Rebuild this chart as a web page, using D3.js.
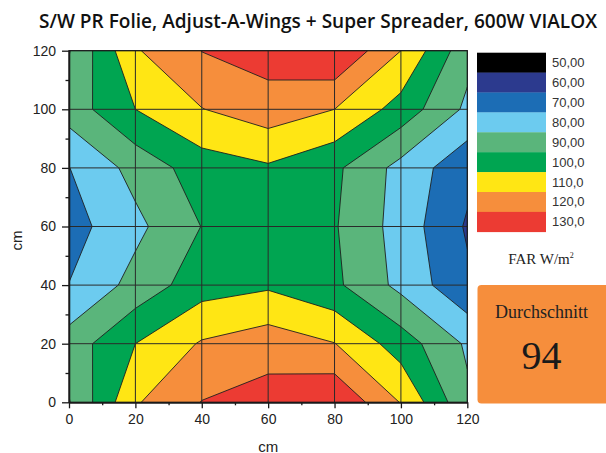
<!DOCTYPE html>
<html>
<head>
<meta charset="utf-8">
<script src="https://cdn.jsdelivr.net/npm/d3@7"></script>
<style>
  body { margin: 0; background: #ffffff; }
  svg { display: block; }
</style>
</head>
<body>
<svg id="chart" width="606" height="453"></svg>
<script>
// Measuring grid (cm)
const xPositions = [0, 20, 40, 60, 80, 100, 120];
const yPositions = [0, 20, 40, 60, 80, 100, 120];

// FAR readings in W/m², one row per y position (y = 0 first), columns follow xPositions
const farY0   = [79.5, 109.0, 120.3, 124.1, 129.2, 109.5, 82.0];
const farY20  = [84.5, 100.0, 111.0, 115.6, 110.3,  95.2, 78.5];
const farY40  = [70.2,  83.4,  95.7,  98.5,  92.0,  77.2, 62.0];
const farY60  = [66.0,  77.5,  90.2,  93.0,  90.8,  75.9, 58.8];
const farY80  = [69.8,  83.4,  95.0,  98.7,  92.0,  76.7, 63.0];
const farY100 = [84.5, 100.0, 109.7, 115.5, 110.0,  96.0, 78.0];
const farY120 = [79.5, 109.0, 120.2, 124.5, 130.0, 110.0, 83.3];

// Colour scale levels (upper bound of each band) with their labels and colours
const levelValues = [50, 60, 70, 80, 90, 100, 110, 120, 130];
const levelLabels = ["50,00", "60,00", "70,00", "80,00", "90,00", "100,0", "110,0", "120,0", "130,0"];
const levelColors = ["#000000", "#2c3a8e", "#1c6db5", "#6ccbef", "#5ab57b", "#00a551", "#ffe614", "#f68e3c", "#ec3b33"];

const axisTicks = [0, 20, 40, 60, 80, 100, 120];
const minorTicks = [10, 30, 50, 70, 90, 110];

const titleText = "S/W PR  Folie, Adjust-A-Wings + Super Spreader, 600W VIALOX";
const axisTitle = "cm";
const unitText = "FAR W/m";
const averageTitle = "Durchschnitt";

const rows = [farY0, farY20, farY40, farY60, farY80, farY100, farY120];
const values = rows.flat();
const nx = xPositions.length, ny = yPositions.length;

const svg = d3.select("#chart");
const plot = { left: 69, right: 467.3, top: 50.7, bottom: 402.3 };

const x = d3.scaleLinear().domain([0, 120]).range([plot.left, plot.right]);
const y = d3.scaleLinear().domain([0, 120]).range([plot.bottom, plot.top]);

// grid-index space of d3.contours (sample i sits at i + 0.5) -> data -> pixels
const gx = d3.scaleLinear().domain([0.5, nx - 0.5]).range([xPositions[0], xPositions[nx - 1]]);
const gy = d3.scaleLinear().domain([0.5, ny - 0.5]).range([yPositions[0], yPositions[ny - 1]]);
const toPixels = d3.geoTransform({
  point(px, py) { this.stream.point(x(gx(px)), y(gy(py))); }
});
const path = d3.geoPath(toPixels);

svg.append("defs").append("clipPath").attr("id", "plot-clip")
  .append("rect")
  .attr("x", plot.left).attr("y", plot.top)
  .attr("width", plot.right - plot.left).attr("height", plot.bottom - plot.top);

// Filled contour bands: region >= level[i] gets the colour of the band above it
const thresholds = levelValues.slice(0, -1);
const contours = d3.contours().size([nx, ny]).thresholds(thresholds)(values);

const field = svg.append("g").attr("clip-path", "url(#plot-clip)");
field.selectAll("path.band")
  .data(contours)
  .join("path")
  .attr("class", "band")
  .attr("d", path)
  .attr("fill", (d, i) => levelColors[i + 1])
  .attr("stroke", "#1f1f1f")
  .attr("stroke-width", 0.9)
  .attr("stroke-linejoin", "round");

// Grid lines at the major ticks
const inner = axisTicks.slice(1, -1);
field.selectAll("line.vgrid").data(inner).join("line")
  .attr("x1", d => x(d)).attr("x2", d => x(d))
  .attr("y1", plot.top).attr("y2", plot.bottom)
  .attr("stroke", "#2a2a2a").attr("stroke-width", 1);
field.selectAll("line.hgrid").data(inner).join("line")
  .attr("y1", d => y(d)).attr("y2", d => y(d))
  .attr("x1", plot.left).attr("x2", plot.right)
  .attr("stroke", "#2a2a2a").attr("stroke-width", 1);

// Frame
svg.append("rect")
  .attr("x", plot.left).attr("y", plot.top)
  .attr("width", plot.right - plot.left).attr("height", plot.bottom - plot.top)
  .attr("fill", "none").attr("stroke", "#1a1a1a").attr("stroke-width", 1.3);

// Axes
const tickFont = "'Liberation Sans', Arial, sans-serif";
function styleAxis(g) {
  g.select(".domain").attr("stroke", "#1a1a1a").attr("stroke-width", 1.3);
  g.selectAll(".tick line").attr("stroke", "#1a1a1a").attr("stroke-width", 1.3);
  g.selectAll(".tick text").attr("fill", "#222").style("font-family", tickFont).style("font-size", "14px");
}
svg.append("g").attr("transform", `translate(0,${plot.bottom})`)
  .call(d3.axisBottom(x).tickValues(axisTicks).tickSize(6).tickPadding(6).tickSizeOuter(0))
  .call(styleAxis);
svg.append("g").attr("transform", `translate(0,${plot.bottom})`)
  .call(d3.axisBottom(x).tickValues(minorTicks).tickSize(3).tickFormat("").tickSizeOuter(0))
  .call(styleAxis);
svg.append("g").attr("transform", `translate(${plot.left},0)`)
  .call(d3.axisLeft(y).tickValues(axisTicks).tickSize(7).tickPadding(6).tickSizeOuter(0))
  .call(styleAxis);
svg.append("g").attr("transform", `translate(${plot.left},0)`)
  .call(d3.axisLeft(y).tickValues(minorTicks).tickSize(3.5).tickFormat("").tickSizeOuter(0))
  .call(styleAxis);

// Axis titles
svg.append("text")
  .attr("x", (plot.left + plot.right) / 2).attr("y", 446)
  .attr("text-anchor", "middle").attr("dominant-baseline", "central")
  .style("font-family", tickFont).style("font-size", "15px").attr("fill", "#222")
  .text(axisTitle);
svg.append("text")
  .attr("transform", `translate(22,${(plot.top + plot.bottom) / 2 + 14}) rotate(-90)`)
  .attr("text-anchor", "middle")
  .style("font-family", tickFont).style("font-size", "15px").attr("fill", "#222")
  .text(axisTitle);

// Title
svg.append("text")
  .attr("x", 39).attr("y", 28)
  .attr("textLength", 558).attr("lengthAdjust", "spacingAndGlyphs")
  .style("font-family", "'Open Sans', 'Noto Sans', sans-serif")
  .style("font-size", "19px").style("font-weight", 600)
  .attr("fill", "#111")
  .text(titleText);

// Colour legend
const legend = { x: 477, y: 52.7, w: 69, h: 19.9 };
const lg = svg.append("g");
lg.selectAll("rect").data(levelColors).join("rect")
  .attr("x", legend.x).attr("y", (d, i) => legend.y + i * legend.h)
  .attr("width", legend.w).attr("height", legend.h + 0.3)
  .attr("fill", d => d);
lg.selectAll("text").data(levelLabels).join("text")
  .attr("x", 552).attr("y", (d, i) => legend.y + (i + 0.5) * legend.h)
  .attr("dominant-baseline", "central")
  .style("font-family", tickFont).style("font-size", "13px").attr("fill", "#333")
  .text(d => d);

const unit = svg.append("text")
  .attr("x", 541).attr("y", 264)
  .attr("text-anchor", "middle")
  .style("font-family", "'Liberation Serif', 'DejaVu Serif', serif")
  .style("font-size", "15px").attr("fill", "#222");
unit.append("tspan").text(unitText);
unit.append("tspan").attr("dy", -6).style("font-size", "8px").text("2");

// Average box
const average = Math.round(d3.mean(values));
svg.append("rect")
  .attr("x", 477.5).attr("y", 285).attr("width", 135).attr("height", 118.5)
  .attr("rx", 4).attr("fill", levelColors[7]);
svg.append("text")
  .attr("x", 541.5).attr("y", 318)
  .attr("text-anchor", "middle")
  .style("font-family", "'Liberation Serif', 'DejaVu Serif', serif")
  .style("font-size", "18px").attr("fill", "#222")
  .text(averageTitle);
svg.append("text")
  .attr("x", 541.5).attr("y", 369)
  .attr("text-anchor", "middle")
  .style("font-family", "'Liberation Serif', 'DejaVu Serif', serif")
  .style("font-size", "40px").attr("fill", "#1a1a1a")
  .text(average);
</script>
</body>
</html>
